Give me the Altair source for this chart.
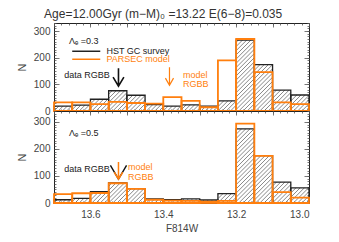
import altair as alt
import pandas as pd
import numpy as np

# ---- data ----
bin_lo = [13.70, 13.65, 13.60, 13.55, 13.50, 13.45, 13.40,
          13.35, 13.30, 13.25, 13.20, 13.15, 13.10, 13.05]
data_top = [18, 22, 44, 76, 59, 24, 18, 23, 18, 38, 266, 174, 78, 60]
model_top = [32, 32, 26, 34, 30, 28, 52, 38, 14, 190, 270, 146, 32, 26]
data_bot = [12, 17, 42, 74, 53, 15, 12, 15, 11, 35, 274, 175, 77, 56]
model_bot = [33, 36, 37, 73, 52, 12, 9, 8, 5, 8, 293, 174, 40, 20]

y_ticks = [0, 100, 200, 300]
x_ticks = [13.0, 13.2, 13.4, 13.6]

W = 255
H_TOP = 88
H_BOT = 92
YMAX_TOP = 330
YMAX_BOT = 340
BW = 0.05
ORANGE = "#ff7f0e"
FONT = "Liberation Sans"

xscale = alt.Scale(domain=[13.0, 13.7], reverse=True, nice=False, zero=False)


def hatch(counts, H, ymax, s=4.2):
    kx = W / 0.7
    ky = H / ymax
    rows = []
    for lo, c in zip(bin_lo, counts):
        X0 = (13.7 - lo) * kx
        X1 = X0 + BW * kx
        Hp = c * ky
        k0 = int(np.floor((X0 - Hp) / s)) - 1
        k1 = int(np.ceil(X1 / s)) + 1
        for k in range(k0, k1 + 1):
            off = k * s
            xa = max(X0, off)
            xb = min(X1, off + Hp)
            if xb - xa > 0.3:
                rows.append(dict(x=13.7 - xa / kx, x2=13.7 - xb / kx,
                                 y=(xa - off) / ky, y2=(xb - off) / ky))
    return pd.DataFrame(rows)


def panel(data_vals, model_vals, H, ymax, bottom, ann):
    yscale = alt.Scale(domain=[0, ymax], nice=False, zero=True)
    bars = pd.DataFrame({"lo": bin_lo, "hi": [b - BW for b in bin_lo],
                         "data": data_vals, "model": model_vals, "zero": 0})
    hdf = hatch(data_vals, H, ymax)

    lab_axis_y = alt.Axis(orient="left", values=y_ticks, tickSize=0, domain=False,
                          grid=False, labelFontSize=10, labelColor="#444",
                          labelFont=FONT, labelPadding=4, title="N",
                          titleFont=FONT, titleFontSize=11, titleFontWeight="normal",
                          titleColor="#444", titlePadding=6)
    if bottom:
        lab_axis_x = alt.Axis(orient="bottom", values=x_ticks, format=".1f", tickSize=0,
                              domain=False, grid=False, labelFontSize=10,
                              labelColor="#444", labelFont=FONT, labelPadding=6,
                              title="F814W", titleFont=FONT, titleFontSize=10,
                              titleFontWeight="normal", titleColor="#444",
                              titlePadding=4)
    else:
        lab_axis_x = None

    def tick_axis(orient, values, size, off):
        return alt.Axis(orient=orient, values=values, tickSize=size, labels=False,
                        domain=False, grid=False, title=None, offset=off,
                        tickColor="#555", tickWidth=0.8, minExtent=0, maxExtent=0)

    ymaj = y_ticks
    ymin = list(range(0, ymax + 1, 10))
    xmaj = [round(13.0 + 0.1 * i, 2) for i in range(8)]
    xmin = [round(13.0 + 0.02 * i, 2) for i in range(36)]

    hat = alt.Chart(hdf).mark_rule(color="#555", strokeWidth=0.7).encode(
        x=alt.X("x:Q", scale=xscale, axis=lab_axis_x),
        x2="x2:Q",
        y=alt.Y("y:Q", scale=yscale, axis=lab_axis_y),
        y2="y2:Q",
    )
    black = alt.Chart(bars).mark_rect(fillOpacity=0, stroke="#222",
                                      strokeWidth=1.3).encode(
        x=alt.X("lo:Q", scale=xscale, axis=tick_axis("top", xmaj, 4, -H)),
        x2="hi:Q",
        y=alt.Y("zero:Q", scale=yscale, axis=tick_axis("right", ymaj, 5, -W)),
        y2="data:Q",
    )
    orange = alt.Chart(bars).mark_rect(fillOpacity=0, stroke=ORANGE,
                                       strokeWidth=1.8).encode(
        x=alt.X("lo:Q", scale=xscale, axis=tick_axis("top", xmin, 2, -H)),
        x2="hi:Q",
        y=alt.Y("zero:Q", scale=yscale, axis=tick_axis("right", ymin, 2, -W)),
        y2="model:Q",
    )

    tdf = pd.DataFrame(ann["texts"])
    layers = [hat, black, orange]
    left_t = tdf[tdf["a"] == "left"]
    right_t = tdf[tdf["a"] == "right"]
    tl = alt.Chart(left_t).mark_text(font=FONT, fontSize=9, baseline="middle",
                                     align="left").encode(
        x=alt.X("x:Q", scale=xscale, axis=tick_axis("bottom", xmaj, 4, -H)),
        y=alt.Y("y:Q", scale=yscale, axis=tick_axis("left", ymaj, 5, -W)),
        text="t:N",
        color=alt.Color("c:N", scale=None),
    )
    tr = alt.Chart(right_t).mark_text(font=FONT, fontSize=9, baseline="middle",
                                      align="right").encode(
        x=alt.X("x:Q", scale=xscale, axis=tick_axis("bottom", xmin, 2, -H)),
        y=alt.Y("y:Q", scale=yscale, axis=tick_axis("left", ymin, 2, -W)),
        text="t:N",
        color=alt.Color("c:N", scale=None),
    )
    layers += [tl, tr]

    for arr in ann["arrows"]:
        adf = pd.DataFrame([arr])
        layers.append(alt.Chart(adf).mark_point(
            shape=arr["shape"], size=arr["size"], filled=False,
            strokeWidth=arr["sw"], color=arr["c"], opacity=1).encode(
            x=alt.X("x:Q", scale=xscale, axis=None),
            y=alt.Y("y:Q", scale=yscale, axis=None)))

    if ann.get("lines"):
        ldf = pd.DataFrame(ann["lines"])
        layers.append(alt.Chart(ldf).mark_rule(strokeWidth=1.5).encode(
            x=alt.X("x:Q", scale=xscale, axis=None), x2="x2:Q",
            y=alt.Y("y:Q", scale=yscale, axis=None),
            color=alt.Color("c:N", scale=None)))

    return alt.layer(*layers).resolve_axis(x="independent", y="independent").properties(
        width=W, height=H)


ann_top = {
    "texts": [
        {"x": 13.659, "y": 262, "t": "Λₑ =0.3", "c": "#222", "a": "left"},
        {"x": 13.556, "y": 226, "t": "HST GC survey", "c": "#222", "a": "left"},
        {"x": 13.556, "y": 194, "t": "PARSEC model", "c": ORANGE, "a": "left"},
        {"x": 13.547, "y": 136, "t": "data RGBB", "c": "#222", "a": "right"},
        {"x": 13.346, "y": 135, "t": "model", "c": ORANGE, "a": "left"},
        {"x": 13.346, "y": 101, "t": "RGBB", "c": ORANGE, "a": "left"},
    ],
    "arrows": [
        {"x": 13.523, "y": 127, "c": "#111", "sw": 1.6, "size": 324,
         "shape": "M0,-1L0,1M-0.6,0L0,1L0.6,0"},
        {"x": 13.383, "y": 130, "c": ORANGE, "sw": 1.2, "size": 324,
         "shape": "M0,-1L0,1M-0.45,0.2L0,1L0.45,0.2"},
    ],
    "lines": [
        {"x": 13.650, "x2": 13.573, "y": 224, "c": "#222"},
        {"x": 13.650, "x2": 13.573, "y": 194, "c": ORANGE},
    ],
}
ann_bot = {
    "texts": [
        {"x": 13.659, "y": 257, "t": "Λₑ =0.5", "c": "#222", "a": "left"},
        {"x": 13.547, "y": 126, "t": "data RGBB", "c": "#222", "a": "right"},
        {"x": 13.497, "y": 132, "t": "model", "c": ORANGE, "a": "left"},
        {"x": 13.497, "y": 97, "t": "RGBB", "c": ORANGE, "a": "left"},
    ],
    "arrows": [
        {"x": 13.523, "y": 120, "c": "#111", "sw": 1.4, "size": 289,
         "shape": "M-0.95,-0.6L0,1L0.95,-0.6"},
        {"x": 13.523, "y": 120, "c": ORANGE, "sw": 1.5, "size": 289,
         "shape": "M0,-1L0,1M-0.5,0.2L0,1L0.5,0.2"},
    ],
    "lines": [],
}

top = panel(data_top, model_top, H_TOP, YMAX_TOP, False, ann_top)
bot = panel(data_bot, model_bot, H_BOT, YMAX_BOT, True, ann_bot)

chart = alt.vconcat(top, bot, spacing=0, bounds="flush").properties(
    title=alt.TitleParams("Age=12.00Gyr  (m−M)₀ =13.22  E(6−8)=0.035",
                          font=FONT, fontSize=12, fontWeight="normal",
                          color="#333", anchor="middle", offset=1),
    padding={"left": 7, "top": 0, "right": 5, "bottom": 5},
).configure_view(stroke="#222", strokeWidth=1).configure_axis(grid=False)

chart.save("out.html", embed_options={"renderer": "svg", "actions": False})
